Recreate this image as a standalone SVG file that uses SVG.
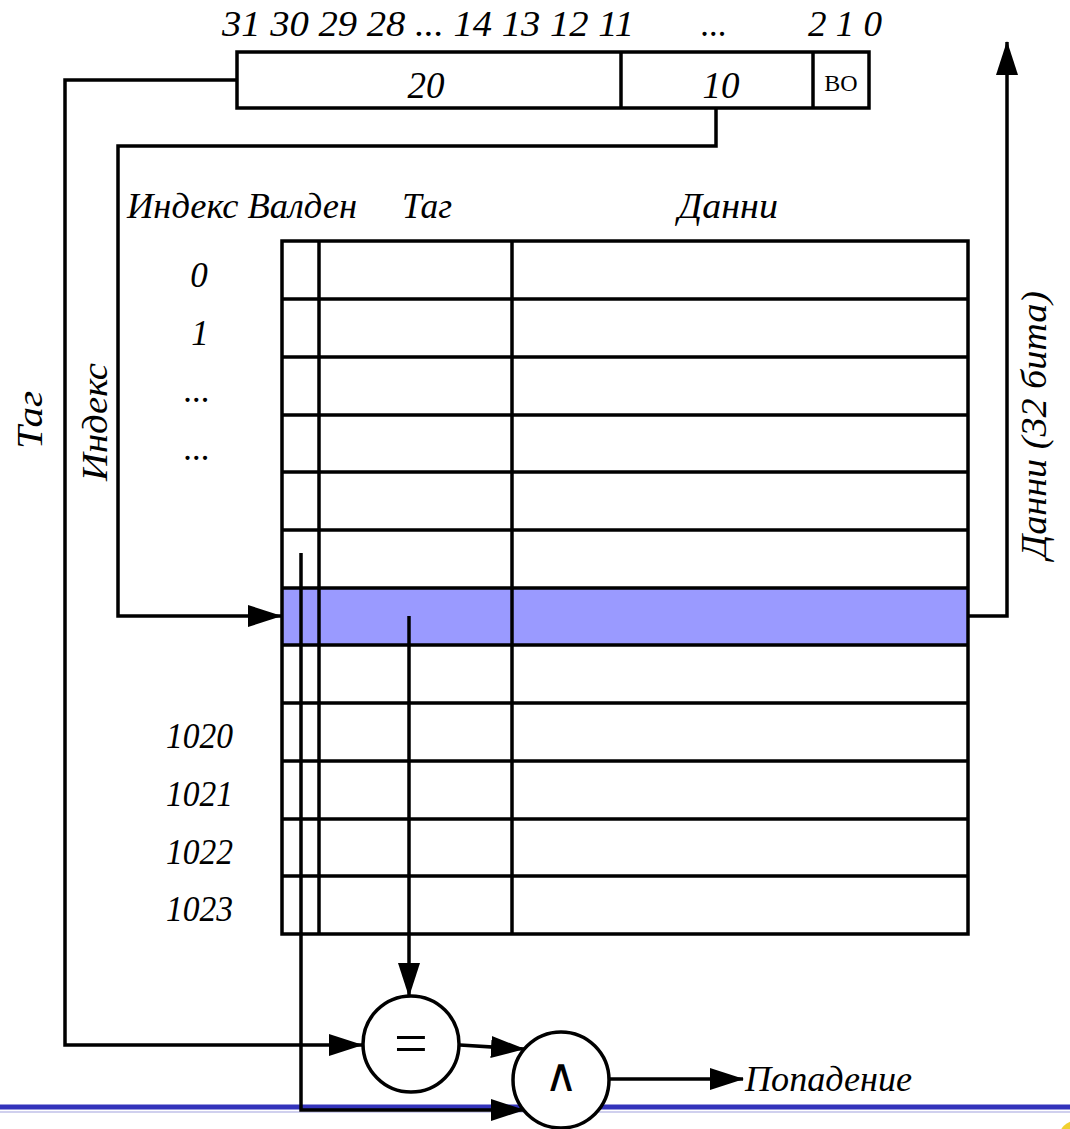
<svg xmlns="http://www.w3.org/2000/svg" width="1070" height="1129" viewBox="0 0 1070 1129">
<defs>
<style>
.ln{fill:none;stroke:#000;stroke-width:3.5}
.cell{fill:none;stroke:#000;stroke-width:3.5}
.op{fill:#fff;stroke:#000;stroke-width:3.5}
</style>
<marker id="ah" viewBox="0 0 34 22" refX="33" refY="11" markerWidth="34" markerHeight="22" markerUnits="userSpaceOnUse" orient="auto">
<path d="M0,0 L34,11 L0,22 Z" fill="#000"/>
</marker>
</defs>
<rect width="1070" height="1129" fill="#fff"/>

<!-- bottom decoration -->
<line x1="0" y1="1107" x2="1070" y2="1107" stroke="#3333bb" stroke-width="5"/>
<line x1="0" y1="1112" x2="1070" y2="1112" stroke="#d0d0ee" stroke-width="2"/>
<circle cx="1078" cy="1140" r="20" fill="#f0d030"/>

<g font-family="Liberation Serif, 'Times New Roman', serif" font-style="italic" font-size="35" fill="#000">
<!-- address register -->
<g id="address">
<text x="222" y="36" textLength="412" lengthAdjust="spacingAndGlyphs">31 30 29 28  ... 14 13 12 11</text>
<text x="714" y="36" text-anchor="middle">...</text>
<text x="808" y="36" textLength="74" lengthAdjust="spacingAndGlyphs">2 1 0</text>
<rect class="cell" x="237" y="52" width="632" height="56"/>
<line class="cell" x1="621" y1="52" x2="621" y2="108"/>
<line class="cell" x1="813" y1="52" x2="813" y2="108"/>
<text x="426" y="98" font-size="37" text-anchor="middle">20</text>
<text x="721" y="98" font-size="37" text-anchor="middle">10</text>
<text x="841" y="91" font-size="24" text-anchor="middle" font-style="normal">ВО</text>
</g>

<!-- headers -->
<g id="headers">
<text x="127" y="218" textLength="230" lengthAdjust="spacingAndGlyphs">Индекс Валден</text>
<text x="402" y="218" textLength="50" lengthAdjust="spacingAndGlyphs">Таг</text>
<text x="678" y="218" textLength="100" lengthAdjust="spacingAndGlyphs">Данни</text>
</g>

<!-- cache table -->
<g id="cache">
<rect x="282" y="588" width="686" height="57.5" fill="#9a9aff"/>
<rect class="cell" x="282" y="241" width="686" height="693"/>
<path class="cell" d="M282,299H968M282,357H968M282,415H968M282,472H968M282,530H968M282,588H968M282,645H968M282,703H968M282,761H968M282,819H968M282,876H968"/>
<line class="cell" x1="319" y1="241" x2="319" y2="934"/>
<line class="cell" x1="512" y1="241" x2="512" y2="934"/>
</g>

<!-- row labels -->
<g id="rows" text-anchor="middle">
<text x="199" y="287">0</text>
<text x="200" y="345">1</text>
<text x="197" y="402">...</text>
<text x="197" y="460">...</text>
<text x="199.5" y="748" textLength="67" lengthAdjust="spacingAndGlyphs">1020</text>
<text x="199.5" y="806" textLength="67" lengthAdjust="spacingAndGlyphs">1021</text>
<text x="199.5" y="864" textLength="67" lengthAdjust="spacingAndGlyphs">1022</text>
<text x="199.5" y="921" textLength="67" lengthAdjust="spacingAndGlyphs">1023</text>
</g>

<!-- side labels -->
<text transform="translate(42,420) rotate(-90)" text-anchor="middle" textLength="58" lengthAdjust="spacingAndGlyphs">Таг</text>
<text transform="translate(107,422) rotate(-90)" text-anchor="middle" textLength="118" lengthAdjust="spacingAndGlyphs">Индекс</text>
<text transform="translate(1046,425) rotate(-90)" text-anchor="middle" textLength="268" lengthAdjust="spacingAndGlyphs">Данни (32 бита)</text>

<text x="745" y="1091" textLength="167" lengthAdjust="spacingAndGlyphs">Попадение</text>
</g>

<!-- connectors -->
<g id="connectors">
<path class="ln" d="M237,80H65V1045H362" marker-end="url(#ah)"/>
<path class="ln" d="M716,108V146H118V616H281" marker-end="url(#ah)"/>
<path class="ln" d="M968,616H1007V42" marker-end="url(#ah)"/>
<path class="ln" d="M409,616V996" marker-end="url(#ah)"/>
<path class="ln" d="M301,553V1110H524" marker-end="url(#ah)"/>
<path class="ln" d="M460,1045L524,1049" marker-end="url(#ah)"/>
<path class="ln" d="M610,1079H743" marker-end="url(#ah)"/>
</g>

<!-- comparator -->
<g id="eq">
<circle class="op" cx="411" cy="1044" r="48"/>
<text x="411" y="1063" font-size="60" text-anchor="middle" font-family="Liberation Serif, serif">=</text>
</g>

<!-- and gate -->
<g id="and">
<circle class="op" cx="561" cy="1080" r="48"/>
<text x="561" y="1091" font-size="46" text-anchor="middle" font-family="Liberation Serif, DejaVu Serif, serif">∧</text>
</g>
</svg>
